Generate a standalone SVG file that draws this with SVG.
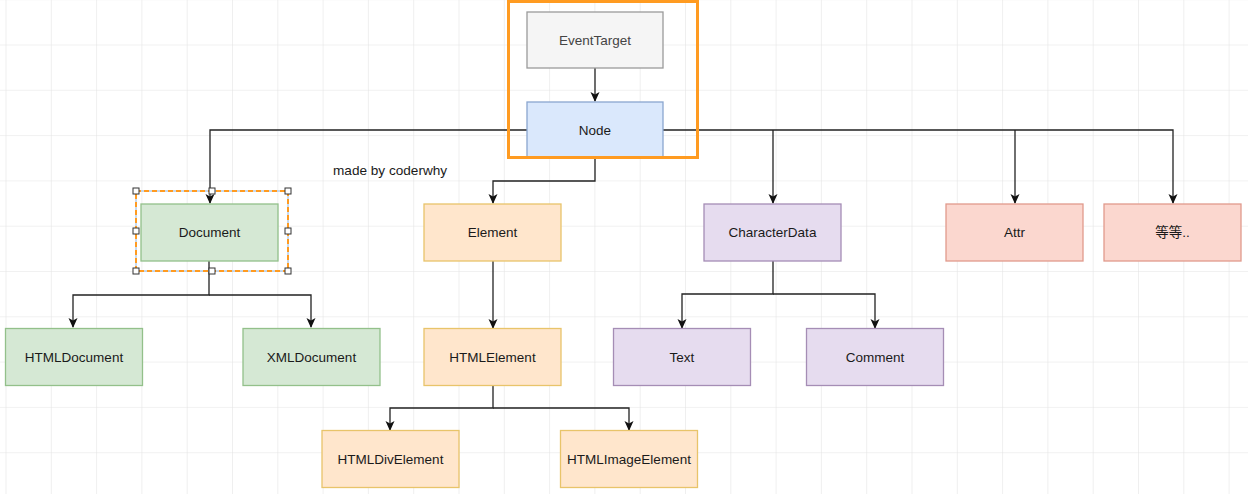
<svg xmlns="http://www.w3.org/2000/svg" width="1248" height="494" viewBox="0 0 1248 494">
<defs>
<pattern id="grid" x="5.5" y="-0.8" width="45.3" height="45.3" patternUnits="userSpaceOnUse">
<path d="M0,0 H45.3 M0,0 V45.3" fill="none" stroke="#e4e4e4" stroke-width="1.2"/>
</pattern>
<marker id="arr" viewBox="0 0 10 10" refX="9" refY="5" markerWidth="10" markerHeight="10" markerUnits="userSpaceOnUse" orient="auto">
<path d="M0,0.5 L10,5 L0,9.5 L2.5,5 z" fill="#111"/>
</marker>
</defs>
<style>
.n rect{stroke-width:1.3}
.n text{font-family:"Liberation Sans",Arial,Helvetica,sans-serif;font-size:13.5px;fill:#1a1a1a;text-anchor:middle;dominant-baseline:central}
.gray rect{fill:#f5f5f5;stroke:#9a9a9a}
.blue rect{fill:#dae8fc;stroke:#8aa6cf}
.green rect{fill:#d5e8d4;stroke:#93c08a}
.orange rect{fill:#ffe6cc;stroke:#e8c46a}
.purple rect{fill:#e6dcef;stroke:#a58db5}
.red rect{fill:#fbd7cf;stroke:#e09a8d}
.c path{fill:none;stroke:#222;stroke-width:1.3}
.h{fill:#fff;stroke:#333;stroke-width:1}
</style>
<rect width="1248" height="494" fill="#fff"/>
<rect width="1248" height="494" fill="url(#grid)"/>

<g class="c" id="connectors">
<path d="M595,68 V101" marker-end="url(#arr)"/>
<path d="M527,130 H210 V203" marker-end="url(#arr)"/>
<path d="M595,158 V181 H493 V203" marker-end="url(#arr)"/>
<path d="M663,130 H1173 V203" marker-end="url(#arr)"/>
<path d="M773,130 V203" marker-end="url(#arr)"/>
<path d="M1015,130 V203" marker-end="url(#arr)"/>
<path d="M209,261 V295 H73 V327" marker-end="url(#arr)"/>
<path d="M209,295 H311 V327" marker-end="url(#arr)"/>
<path d="M493,261 V328" marker-end="url(#arr)"/>
<path d="M773,261 V294 H682 V328" marker-end="url(#arr)"/>
<path d="M773,294 H875 V328" marker-end="url(#arr)"/>
<path d="M493,386 V408 H390 V430" marker-end="url(#arr)"/>
<path d="M493,408 H629 V430" marker-end="url(#arr)"/>
</g>

<g class="n gray" id="EventTarget"><rect x="527" y="12" width="136" height="56"/><text x="595" y="40" style="fill:#444">EventTarget</text></g>
<g class="n blue" id="Node"><rect x="527" y="102" width="136" height="56"/><text x="595" y="130">Node</text></g>
<g class="n green" id="Document"><rect x="141" y="204" width="137" height="57"/><text x="209.5" y="232">Document</text></g>
<g class="n orange" id="Element"><rect x="424" y="204" width="137" height="57"/><text x="492.5" y="232">Element</text></g>
<g class="n purple" id="CharacterData"><rect x="704" y="204" width="137" height="57"/><text x="772.5" y="232">CharacterData</text></g>
<g class="n red" id="Attr"><rect x="946" y="204" width="137" height="57"/><text x="1014.5" y="232">Attr</text></g>
<g class="n red" id="Etc"><rect x="1104" y="204" width="137" height="57"/><text x="1172.5" y="232" style="font-family:'Liberation Sans','Noto Sans CJK SC',sans-serif">等等..</text></g>
<g class="n green" id="HTMLDocument"><rect x="5.5" y="328.5" width="137" height="57"/><text x="74" y="357">HTMLDocument</text></g>
<g class="n green" id="XMLDocument"><rect x="243" y="328.5" width="137" height="57"/><text x="311.5" y="357">XMLDocument</text></g>
<g class="n orange" id="HTMLElement"><rect x="424" y="328.5" width="137" height="57"/><text x="492.5" y="357">HTMLElement</text></g>
<g class="n purple" id="Text"><rect x="613.5" y="328.5" width="137" height="57"/><text x="682" y="357">Text</text></g>
<g class="n purple" id="Comment"><rect x="806.5" y="328.5" width="137" height="57"/><text x="875" y="357">Comment</text></g>
<g class="n orange" id="HTMLDivElement"><rect x="322" y="430.5" width="137" height="57"/><text x="390.5" y="459">HTMLDivElement</text></g>
<g class="n orange" id="HTMLImageElement"><rect x="560.5" y="430.5" width="137" height="57"/><text x="629" y="459">HTMLImageElement</text></g>

<g id="label"><text x="333" y="170" style="font-family:'Liberation Sans',Arial,sans-serif;font-size:13.6px;fill:#1a1a1a;dominant-baseline:central">made by coderwhy</text></g>

<g id="selection-top"><rect x="508.5" y="1.5" width="189" height="156" fill="none" stroke="#ff9b21" stroke-width="3"/></g>

<g id="selection-document">
<rect x="136" y="191" width="152" height="80" fill="none" stroke="#8fb4dd" stroke-width="1"/>
<rect x="136" y="191" width="152" height="80" fill="none" stroke="#ff9b21" stroke-width="2" stroke-dasharray="5 3"/>
<rect class="h" x="133" y="188" width="6" height="6"/>
<rect class="h" x="209" y="188" width="6" height="6"/>
<rect class="h" x="285" y="188" width="6" height="6"/>
<rect class="h" x="133" y="228" width="6" height="6"/>
<rect class="h" x="285" y="228" width="6" height="6"/>
<rect class="h" x="133" y="268" width="6" height="6"/>
<rect class="h" x="209" y="268" width="6" height="6"/>
<rect class="h" x="285" y="268" width="6" height="6"/>
</g>
</svg>
